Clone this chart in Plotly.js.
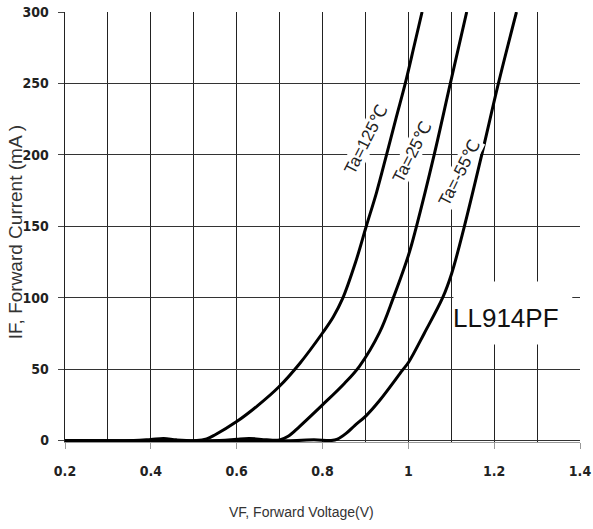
<!DOCTYPE html>
<html>
<head>
<meta charset="utf-8">
<script src="https://cdn.plot.ly/plotly-3.0.1.min.js"></script>
<style>html,body{margin:0;padding:0;background:#fff;}</style>
</head>
<body>
<div id="chart" style="width:593px;height:529px;"></div>
<script>
// Ta = 125 °C
var vf125 = [0.2, 0.36, 0.4, 0.43, 0.46, 0.507, 0.53, 0.549, 0.600, 0.649, 0.698, 0.747, 0.800, 0.825, 0.847, 0.877, 0.902, 0.926, 0.949, 0.972, 0.993, 1.014, 1.032];
var if125 = [0, 0, 0.8, 1.5, 0.5, 0, 1.2, 3.9, 13.3, 24.5, 37.5, 54.0, 75.3, 86.5, 99.5, 124.8, 150.0, 173.8, 199.8, 226.4, 250.2, 276.9, 300];
// Ta = 25 °C
var vf25 = [0.2, 0.56, 0.6, 0.63, 0.67, 0.70, 0.72, 0.747, 0.800, 0.851, 0.886, 0.933, 0.965, 1.001, 1.019, 1.060, 1.098, 1.136];
var if25 = [0, 0, 1, 1.5, 0.5, 0.5, 3, 10, 25, 40, 52, 75.7, 99.9, 130.4, 150.0, 199.8, 250.2, 300];
// Ta = -55 °C
var vf55 = [0.2, 0.74, 0.78, 0.82, 0.835, 0.855, 0.875, 0.902, 0.933, 0.986, 1.001, 1.037, 1.080, 1.101, 1.130, 1.171, 1.210, 1.252];
var if55 = [0, 0, 0.6, 0, 1, 5, 10.5, 17.5, 28.0, 49.1, 55.0, 75.0, 100.0, 117.0, 149.3, 200.0, 250.2, 300];

var seriesNames = ["Ta=125℃", "Ta=25℃", "Ta=-55℃"];
var xTickVals = [0.2, 0.4, 0.6, 0.8, 1.0, 1.2, 1.4];
var xTickText = ["0.2", "0.4", "0.6", "0.8", "1", "1.2", "1.4"];
var yTickVals = [0, 50, 100, 150, 200, 250, 300];
var yTickText = ["0", "50", "100", "150", "200", "250", "300"];
var partName = "LL914PF";
var xTitle = "VF, Forward Voltage(V)";
var yTitle = "IF, Forward Current (mA )";

var lineStyle = {color: "#000", width: 3, shape: "spline", smoothing: 1};
var traces = [
  {x: vf125, y: if125, name: seriesNames[0]},
  {x: vf25, y: if25, name: seriesNames[1]},
  {x: vf55, y: if55, name: seriesNames[2]}
].map(function (t) {
  t.type = "scatter"; t.mode = "lines"; t.line = lineStyle; t.hoverinfo = "skip";
  return t;
});

var tickFont = {family: "Liberation Sans Narrow, DejaVu Sans Condensed, Arial Narrow, sans-serif", size: 14, color: "#222", weight: "bold"};
var tagFont = {family: "Liberation Sans, Arial, DejaVu Sans, sans-serif", size: 17, color: "#222"};

var layout = {
  width: 593, height: 529,
  margin: {l: 65, r: 13, t: 12, b: 87},
  paper_bgcolor: "#fff", plot_bgcolor: "#fff",
  showlegend: false,
  xaxis: {
    range: [0.2, 1.4], tickvals: xTickVals, ticktext: xTickText,
    showgrid: true, gridcolor: "#222", gridwidth: 1,
    minor: {dtick: 0.1, tick0: 0.2, showgrid: true, gridcolor: "#222", gridwidth: 1, ticks: ""},
    ticks: "outside", ticklen: 6, tickcolor: "#999", tickwidth: 1,
    showline: true, linecolor: "#999", linewidth: 1,
    zeroline: false, tickfont: tickFont, ticklabelstandoff: 10
  },
  yaxis: {
    range: [-1, 300], tickvals: yTickVals, ticktext: yTickText,
    showgrid: true, gridcolor: "#333", gridwidth: 1,
    ticks: "outside", ticklen: 6, tickcolor: "#444", tickwidth: 1,
    showline: true, linecolor: "#222", linewidth: 1.3,
    zeroline: false, tickfont: tickFont, ticklabelstandoff: 6
  },
  shapes: [
    {type: "rect", xref: "x", yref: "y", x0: 1.105, x1: 1.382, y0: 67.3, y1: 111.4,
     fillcolor: "#fff", line: {width: 0}, layer: "between"}
  ],
  annotations: [
    {xref: "x", yref: "y", x: 0.901, y: 211, text: seriesNames[0], textangle: -63, showarrow: false,
     font: tagFont, bgcolor: "#fff", borderpad: 0},
    {xref: "x", yref: "y", x: 1.008, y: 202, text: seriesNames[1], textangle: -63, showarrow: false,
     font: tagFont, bgcolor: "#fff", borderpad: 0},
    {xref: "x", yref: "y", x: 1.119, y: 188, text: seriesNames[2], textangle: -63, showarrow: false,
     font: tagFont, bgcolor: "#fff", borderpad: 0},
    {xref: "x", yref: "y", x: 1.228, y: 86, text: partName, showarrow: false,
     font: {family: "Liberation Sans, Arial, sans-serif", size: 26, color: "#111"}},
    {xref: "paper", yref: "paper", x: 0.46, y: -0.163, text: xTitle, showarrow: false,
     xanchor: "center", yanchor: "middle", font: {family: "Liberation Sans, Arial, sans-serif", size: 14, color: "#333"}},
    {xref: "paper", yref: "paper", x: -0.097, y: 0.488, text: yTitle, showarrow: false, textangle: -90,
     xanchor: "center", yanchor: "middle", font: {family: "Liberation Sans, Arial, sans-serif", size: 19, color: "#333"}}
  ]
};

Plotly.newPlot("chart", traces, layout, {displayModeBar: false, staticPlot: true});
</script>
</body>
</html>
